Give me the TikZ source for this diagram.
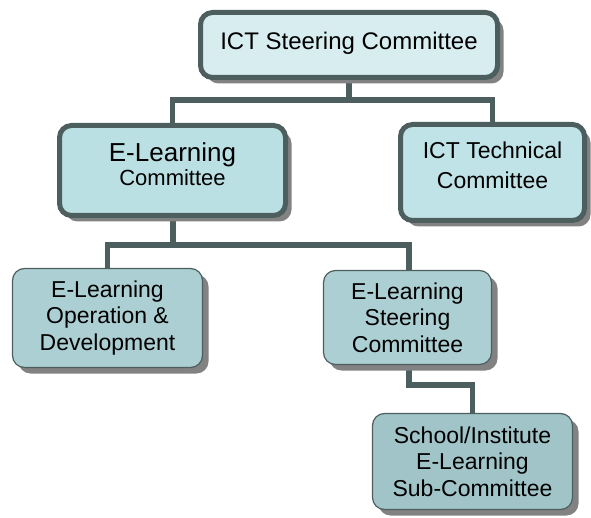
\documentclass[tikz,border=0pt]{standalone}
\usepackage{fontspec}
\setmainfont{Liberation Sans}
\usepackage{tikz}
\usetikzlibrary{shadows,backgrounds}
\definecolor{boxline}{RGB}{77,94,94}
\definecolor{shadowgray}{RGB}{130,130,130}
\definecolor{filltop}{RGB}{216,237,240}
\definecolor{fillmid}{RGB}{186,224,228}
\definecolor{filltech}{RGB}{192,227,232}
\definecolor{filllow}{RGB}{172,207,211}
\definecolor{fillsub}{RGB}{160,196,200}
\tikzset{org/.style={draw=boxline, rounded corners=12pt, align=center, inner sep=0pt,
  drop shadow={shadow xshift=6pt, shadow yshift=-6pt, fill=shadowgray, opacity=1}},
  headbox/.style={org, line width=5pt},
  lowbox/.style={org, line width=1.2pt},
  link/.style={draw=boxline, line width=5.5pt},
  txt/.style={font=\fontsize{23}{26.5}\selectfont}}

\begin{document}
\begin{tikzpicture}[x=1pt,y=1pt]
      \useasboundingbox (0,0) rectangle (591,517);

      \node [headbox, fill=filltop, minimum width=297, minimum height=65, font=\fontsize{24}{28}\selectfont, text depth=9pt] (top) at (349, 472) {ICT Steering Committee};

      \node [headbox, fill=fillmid, minimum width=226, minimum height=90, text depth=13pt] (elc) at (172.5, 346.5)
        {{\fontsize{26}{30}\selectfont E-Learning}\\[1pt]{\fontsize{22}{26}\selectfont Committee}};
      \node [headbox, fill=filltech, minimum width=184, minimum height=96, font=\fontsize{23}{29.5}\selectfont, text depth=15pt] (tech) at (492.5, 344.5)
        {ICT Technical\\Committee};

      \node [lowbox, fill=filllow, minimum width=190, minimum height=99, txt] (op) at (107.5, 199)
        {E-Learning\\Operation \&\\Development};
      \node [lowbox, fill=filllow, minimum width=168, minimum height=94, txt] (els) at (407.5, 199.5)
        {E-Learning\\Steering\\Committee};

      \node [lowbox, fill=fillsub, minimum width=200, minimum height=96, txt] (school) at (472.5, 55.5)
        {School/Institute\\E-Learning\\Sub-Committee};

      \coordinate (bus1) at (top.south |- 0,417);
      \coordinate (bus2) at (173, 272);
      \coordinate (bus3) at (409, 132);

      \begin{pgfonlayer}{background}
      \draw [link] (top.south) -- (bus1) -| (elc.north);
      \draw [link] (bus1) -| (tech.north);
      \draw [link] (elc.south -| bus2) -- (bus2) -| (op.north);
      \draw [link] (bus2) -| (els.north -| bus3);
      \draw [link] (els.south -| bus3) -- (bus3) -| (school.north);
      \end{pgfonlayer}

    \end{tikzpicture}
\end{document}
